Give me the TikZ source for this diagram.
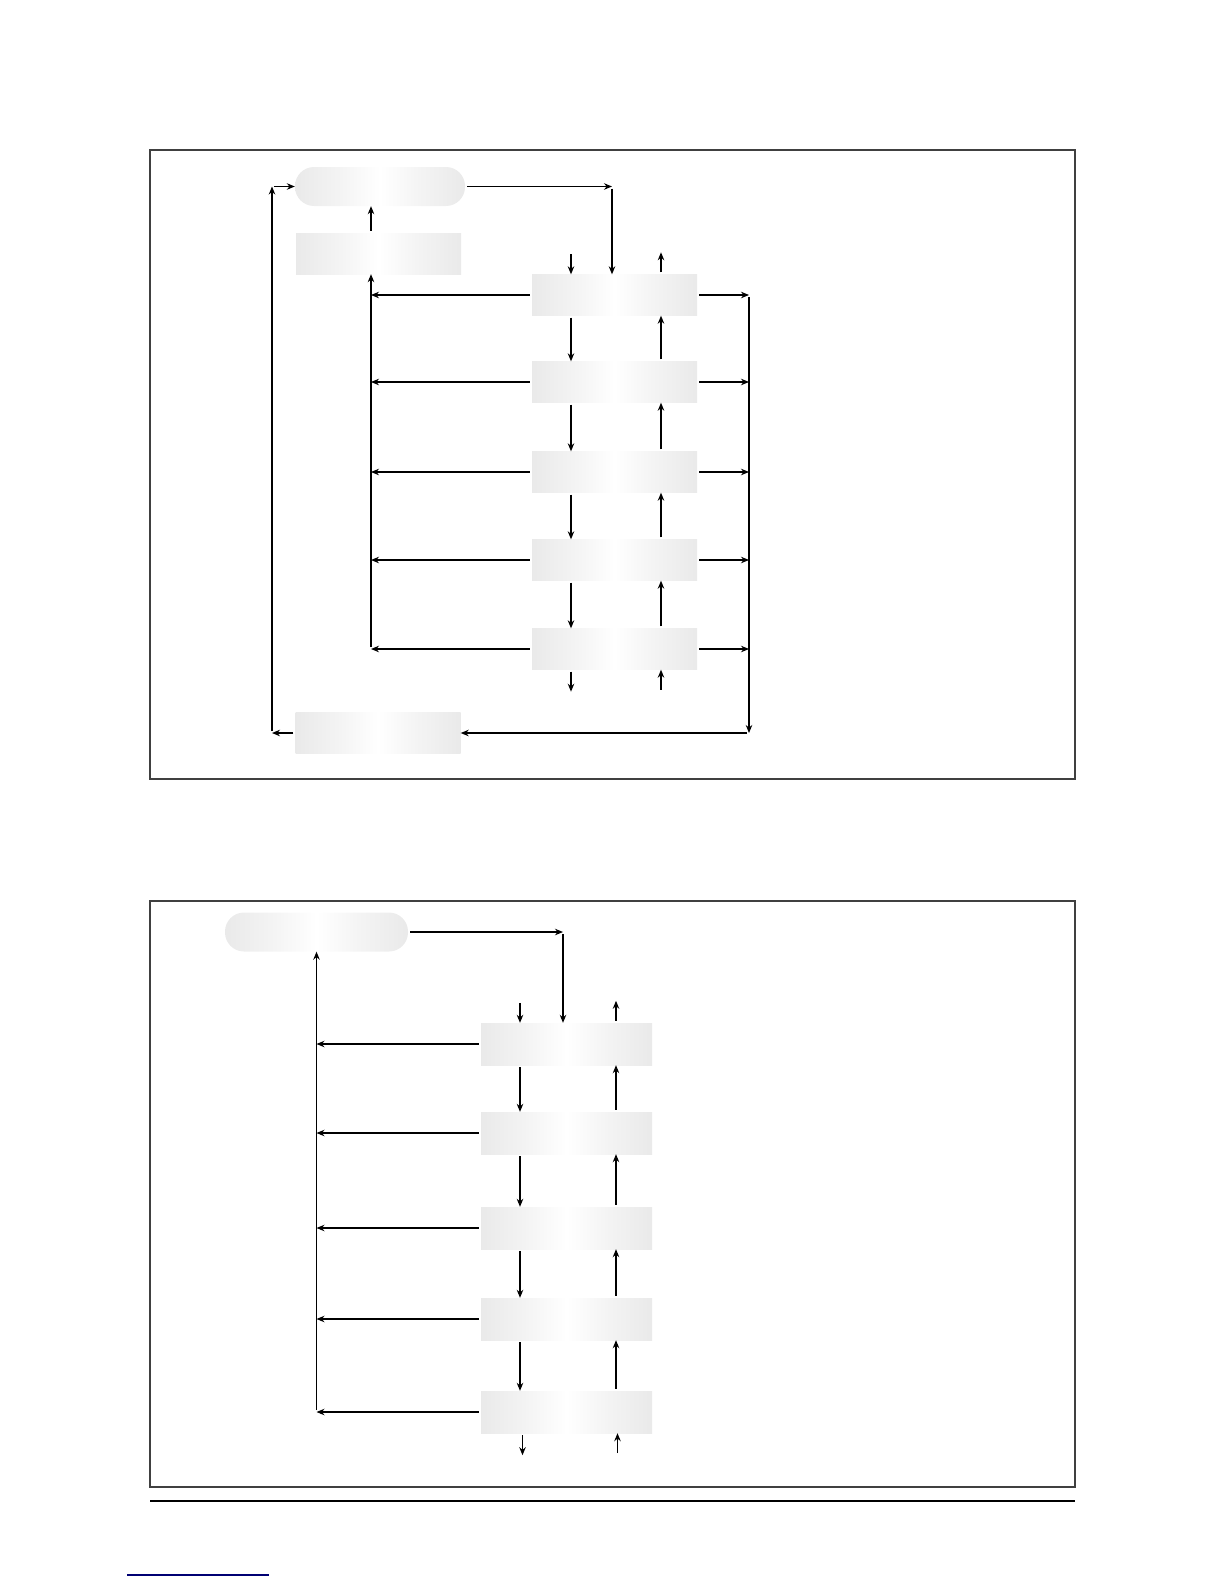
\documentclass[tikz,border=0pt]{standalone}
\usetikzlibrary{arrows.meta,positioning}
\pgfdeclarehorizontalshading{ombre}{100bp}{color(0bp)=(gray!17); color(25bp)=(gray!17);
  color(38bp)=(gray!9); color(50bp)=(white); color(62bp)=(gray!9); color(75bp)=(gray!17); color(100bp)=(gray!17)}
\tikzset{
  boite/.style={rectangle,minimum width=165pt,minimum height=41pt,inner sep=0pt,
    shading=ombre},
  capsule/.style={boite,rounded corners=19pt,minimum width=170pt,minimum height=39pt},
  fleche/.style={-{Stealth[length=8pt,width=6.5pt]},line width=1.1pt,shorten <=2pt},
  cadre/.style={draw=black!75,line width=1.6pt}
}
\begin{document}
\begin{tikzpicture}[x=1pt,y=-1pt]
    \useasboundingbox (0,0) rectangle (1224,1584);
    % cadres et filet
    \draw[cadre] (150,150) rectangle (1075,779);
    \draw[cadre] (150,901) rectangle (1075,1487);
    \draw[line width=1.2pt] (150,1501) -- (1075,1501);
    \draw[line width=1.6pt,color=blue!45!black] (127,1575) -- (269,1575);

    % schema du haut
    \node[capsule] (haut) at (380,186.5) {};
    \node[boite] (init) at (378.5,253.5) {};
    \foreach \n/\y in {1/295,2/382,3/472,4/560,5/649}
        \node[boite] (e\n) at (614.5,\y) {};
    \node[boite] (fin) at (378,733) {};
    \coordinate (g) at (371,0);   % retour gauche
    \coordinate (gg) at (272,0);  % boucle exterieure
    \coordinate (d) at (749,0);   % collecteur droit
    \coordinate (c) at (612,0);
    \foreach \n/\m in {1/2,2/3,3/4,4/5} {
        \draw[fleche] ([xshift=-43.5pt]e\n.south) -- ([xshift=-43.5pt]e\m.north);
        \draw[fleche] ([xshift=46.5pt]e\m.north) -- ([xshift=46.5pt]e\n.south);
    }
    \foreach \n in {1,...,5} {
        \draw[fleche] (e\n.west) -- (e\n.west -| g);
        \draw[fleche] (e\n.east) -- (e\n.east -| d);
    }
    \draw[fleche] ([xshift=-43.5pt,yshift=22pt]e1.north) -- ([xshift=-43.5pt]e1.north);
    \draw[fleche] ([xshift=46.5pt]e1.north) -- ([xshift=46.5pt,yshift=22pt]e1.north);
    \draw[fleche] ([xshift=-43.5pt]e5.south) -- ([xshift=-43.5pt,yshift=-22pt]e5.south);
    \draw[fleche] ([xshift=46.5pt,yshift=-22pt]e5.south) -- ([xshift=46.5pt]e5.south);
    \draw[fleche] (e5.west -| g) -- (init.south -| g);
    \draw[fleche] (init.north -| g) -- (haut.south -| g);
    \draw[fleche] (haut.east) -- (haut.east -| c);
    \draw[fleche] (haut.east -| c) -- (e1.north -| c);
    \draw[fleche] (e1.east -| d) -- (fin.east -| d);
    \draw[fleche] (fin.east -| d) -- (fin.east);
    \draw[fleche] (fin.west) -- (fin.west -| gg);
    \draw[fleche] (fin.west -| gg) -- (haut.west -| gg);
    \draw[fleche] (haut.west -| gg) -- (haut.west);

    % schema du bas
    \node[capsule,minimum width=183pt] (haut2) at (316.5,932) {};
    \foreach \n/\y in {1/1044,2/1133,3/1228,4/1319,5/1412}
        \node[boite,minimum width=171pt,minimum height=42pt] (f\n) at (566.5,\y) {};
    \coordinate (c2) at (563,0);
    \foreach \n/\m in {1/2,2/3,3/4,4/5} {
        \draw[fleche] ([xshift=-46.5pt]f\n.south) -- ([xshift=-46.5pt]f\m.north);
        \draw[fleche] ([xshift=49.5pt]f\m.north) -- ([xshift=49.5pt]f\n.south);
    }
    \foreach \n in {1,...,5}
        \draw[fleche] (f\n.west) -- (f\n.west -| haut2.south);
    \draw[fleche] ([xshift=-46.5pt,yshift=22pt]f1.north) -- ([xshift=-46.5pt]f1.north);
    \draw[fleche] ([xshift=49.5pt]f1.north) -- ([xshift=49.5pt,yshift=22pt]f1.north);
    \draw[fleche] ([xshift=-44pt]f5.south) -- ([xshift=-44pt,yshift=-22pt]f5.south);
    \draw[fleche] ([xshift=51pt,yshift=-22pt]f5.south) -- ([xshift=51pt]f5.south);
    \draw[fleche] (f5.west -| haut2.south) -- (haut2.south);
    \draw[fleche] (haut2.east) -- (haut2.east -| c2);
    \draw[fleche] (haut2.east -| c2) -- (f1.north -| c2);
\end{tikzpicture}
\end{document}
